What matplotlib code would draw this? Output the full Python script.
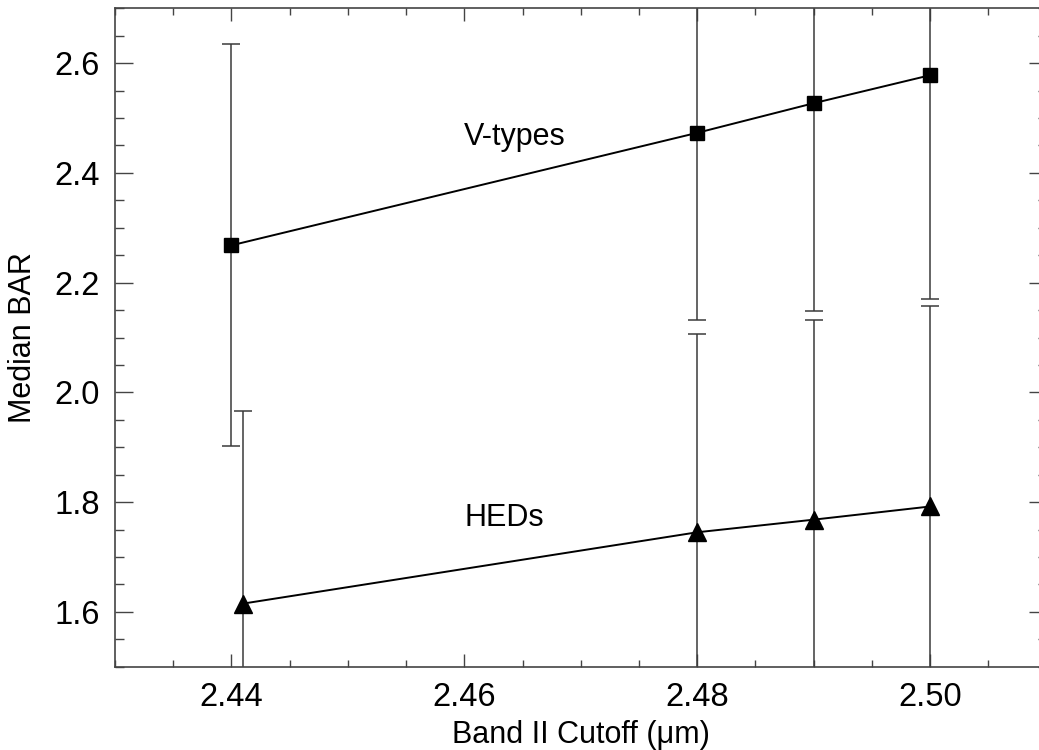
import matplotlib
matplotlib.use('Agg')
import matplotlib.pyplot as plt
from matplotlib.ticker import MultipleLocator
import numpy as np

plt.rcParams['font.family'] = ['Liberation Sans', 'DejaVu Sans']

# band II cutoff (um)
vx = [2.44, 2.48, 2.49, 2.50]
vy = [2.268, 2.473, 2.527, 2.578]
v_lo = [1.903, 2.131, 2.148, 2.170]
v_hi = [2.635, 2.90, 2.95, 3.00]

hx = [2.441, 2.48, 2.49, 2.50]
hy = [1.615, 1.745, 1.768, 1.792]
h_lo = [1.30, 1.35, 1.38, 1.40]
h_hi = [1.966, 2.107, 2.131, 2.157]

vy = np.array(vy)
hy = np.array(hy)
verr = [vy - np.array(v_lo), np.array(v_hi) - vy]
herr = [hy - np.array(h_lo), np.array(h_hi) - hy]

fig = plt.figure(figsize=(10.39, 7.5), dpi=100)
ax = fig.add_axes([115/1039, 1-666.7/750, (1046.5-115)/1039, (666.7-8.3)/750])

ec = '#3a3a3a'
ax.errorbar(vx, vy, yerr=verr, fmt='none', ecolor=ec, elinewidth=1.1, capsize=6.5, capthick=1.1)
ax.errorbar(hx, hy, yerr=herr, fmt='none', ecolor=ec, elinewidth=1.1, capsize=6.5, capthick=1.1)
ax.plot(vx, vy, color='black', lw=1.4, marker='s', ms=10.5, zorder=3)
ax.plot(hx, hy, color='black', lw=1.4, marker='^', ms=13.5, zorder=3)

ax.text(2.46, 2.466, 'V-types', fontsize=22, ha='left', va='center')
ax.text(2.46, 1.771, 'HEDs', fontsize=22, ha='left', va='center')

ax.set_xlim(2.43, 2.51)
ax.set_ylim(1.5, 2.7)
ax.xaxis.set_major_locator(MultipleLocator(0.02))
ax.xaxis.set_minor_locator(MultipleLocator(0.005))
ax.yaxis.set_major_locator(MultipleLocator(0.2))
ax.yaxis.set_minor_locator(MultipleLocator(0.05))
ax.xaxis.set_major_formatter(matplotlib.ticker.FormatStrFormatter('%.2f'))
ax.yaxis.set_major_formatter(matplotlib.ticker.FormatStrFormatter('%.1f'))

ax.tick_params(axis='both', which='both', direction='in', top=True, right=True,
               color='#444444', width=1.0, labelsize=23.5)
ax.tick_params(axis='x', which='major', length=9.5, pad=11)
ax.tick_params(axis='x', which='minor', length=5)
ax.tick_params(axis='y', which='major', length=13, pad=11)
ax.tick_params(axis='y', which='minor', length=6.5)
for s in ax.spines.values():
    s.set_color('#444444')
    s.set_linewidth(1.2)

ax.set_xlabel('Band II Cutoff (\u03bcm)', fontsize=22, labelpad=5)
ax.set_ylabel('Median BAR', fontsize=22, labelpad=12)

fig.savefig('out.png', dpi=100)
